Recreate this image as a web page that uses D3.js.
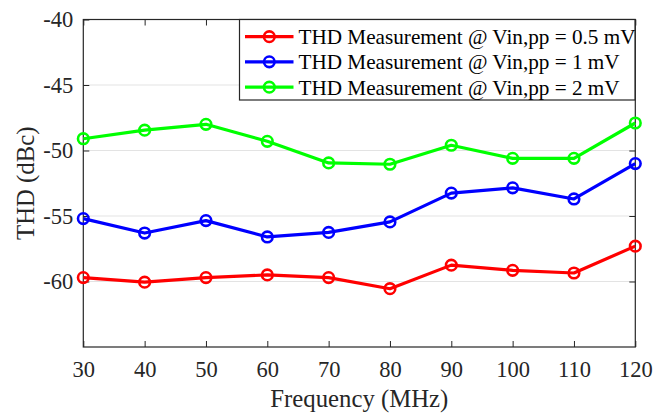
<!DOCTYPE html>
<html>
<head>
<meta charset="utf-8">
<script src="https://cdn.jsdelivr.net/npm/d3@7/dist/d3.min.js"></script>
<style>
  html, body { margin: 0; padding: 0; background: #fff; }
  svg { display: block; }
</style>
</head>
<body>
<svg id="chart" width="654" height="414"></svg>
<script>
// Frequency sweep (MHz) and measured THD (dBc) for each input amplitude
const frequencies = [30, 40, 50, 60, 70, 80, 90, 100, 110, 120];
const thd05mV = [-59.7, -60.05, -59.7, -59.5, -59.7, -60.55, -58.75, -59.15, -59.35, -57.3];
const thd1mV  = [-55.2, -56.3, -55.35, -56.6, -56.25, -55.45, -53.25, -52.85, -53.7, -51.0];
const thd2mV  = [-49.1, -48.45, -48.0, -49.3, -50.95, -51.05, -49.6, -50.6, -50.6, -47.9];
const seriesNames = [
  "THD Measurement @ Vin,pp = 0.5 mV",
  "THD Measurement @ Vin,pp = 1 mV",
  "THD Measurement @ Vin,pp = 2 mV"
];
const seriesColors = ["#ff0000", "#0000ff", "#00ff00"];
const xTicks = [30, 40, 50, 60, 70, 80, 90, 100, 110, 120];
const yTicks = [-60, -55, -50, -45, -40];

const series = [thd05mV, thd1mV, thd2mV].map((vals, i) => ({
  name: seriesNames[i],
  color: seriesColors[i],
  points: frequencies.map((f, j) => ({ f, v: vals[j] }))
}));

const serifStack = "'Liberation Serif', Tinos, 'Times New Roman', 'DejaVu Serif', serif";

const svg = d3.select("#chart").style("font-family", serifStack);
const plotLeft = 83.3, plotRight = 635.3, plotTop = 19.5, plotBottom = 347;

const x = d3.scaleLinear().domain([30, 120]).range([plotLeft, plotRight]);
const y = d3.scaleLinear().domain([-65, -40]).range([plotBottom, plotTop]);

const axisColor = "#262626";
const tickFont = 22.5;

// horizontal grid
svg.append("g").selectAll("line").data(yTicks).join("line")
  .attr("x1", plotLeft).attr("x2", plotRight)
  .attr("y1", d => y(d)).attr("y2", d => y(d))
  .attr("stroke", "#e3e3e3").attr("stroke-width", 1);

// axes (ticks pointing inward)
const xAxis = svg.append("g").attr("transform", `translate(0,${plotBottom})`)
  .call(d3.axisBottom(x).tickValues(xTicks).tickSizeInner(-6).tickSizeOuter(0).tickPadding(14));
const yAxis = svg.append("g").attr("transform", `translate(${plotLeft},0)`)
  .call(d3.axisLeft(y).tickValues(yTicks).tickSizeInner(-6).tickSizeOuter(0).tickPadding(10)
    .tickFormat(d => String(d).replace("\u2212", "-")));
const xTopAxis = svg.append("g").attr("transform", `translate(0,${plotTop})`)
  .call(d3.axisTop(x).tickValues(xTicks).tickSizeInner(-6).tickSizeOuter(0).tickFormat(""));
const yRightAxis = svg.append("g").attr("transform", `translate(${plotRight},0)`)
  .call(d3.axisRight(y).tickValues(yTicks).tickSizeInner(-6).tickSizeOuter(0).tickFormat(""));

[xAxis, yAxis, xTopAxis, yRightAxis].forEach(g => {
  g.attr("font-family", null).attr("font-size", null);
  g.select(".domain").remove();
  g.selectAll("line").attr("stroke", axisColor).attr("stroke-width", 1);
  g.selectAll("text")
    .style("font-family", serifStack)
    .style("font-size", tickFont + "px")
    .attr("fill", axisColor);
});
xAxis.selectAll("text").attr("dy", "0.71em");

// box
svg.append("rect")
  .attr("x", plotLeft).attr("y", plotTop)
  .attr("width", plotRight - plotLeft).attr("height", plotBottom - plotTop)
  .attr("fill", "none").attr("stroke", axisColor).attr("stroke-width", 1.2);

// axis labels
svg.append("text")
  .attr("x", (plotLeft + plotRight) / 2).attr("y", 407)
  .attr("text-anchor", "middle")
  .style("font-family", serifStack).style("font-size", "24.75px")
  .attr("fill", axisColor)
  .text("Frequency (MHz)");
svg.append("text")
  .attr("transform", `translate(33.5,${(plotTop + plotBottom) / 2}) rotate(-90)`)
  .attr("text-anchor", "middle")
  .style("font-family", serifStack).style("font-size", "24.75px")
  .attr("fill", axisColor)
  .text("THD (dBc)");

// data lines and markers
const line = d3.line().x(d => x(d.f)).y(d => y(d.v));
const plot = svg.append("g");
series.forEach(s => {
  plot.append("path").datum(s.points)
    .attr("d", line)
    .attr("fill", "none").attr("stroke", s.color)
    .attr("stroke-width", 3.2).attr("stroke-linejoin", "round");
  plot.append("g").selectAll("circle").data(s.points).join("circle")
    .attr("cx", d => x(d.f)).attr("cy", d => y(d.v)).attr("r", 5.3)
    .attr("fill", "none").attr("stroke", s.color).attr("stroke-width", 2.6);
});

// legend
const lg = svg.append("g");
const lgX = 239.5, lgY = 19.5, lgW = 395.5, lgH = 80.5;
lg.append("rect")
  .attr("x", lgX).attr("y", lgY).attr("width", lgW).attr("height", lgH)
  .attr("fill", "#fff").attr("stroke", "#262626").attr("stroke-width", 1.2);
const rowY = [36.7, 61.8, 87.2];
series.forEach((s, i) => {
  const cy = rowY[i];
  lg.append("line").attr("x1", 245).attr("x2", 293.5).attr("y1", cy).attr("y2", cy)
    .attr("stroke", s.color).attr("stroke-width", 3.2);
  lg.append("circle").attr("cx", 269.3).attr("cy", cy).attr("r", 5.3)
    .attr("fill", "none").attr("stroke", s.color).attr("stroke-width", 2.6);
  lg.append("text").attr("x", 298.5).attr("y", cy).attr("dy", "0.35em")
    .style("font-family", serifStack).style("font-size", "21.2px")
    .attr("fill", "#000")
    .text(s.name);
});
</script>
</body>
</html>
